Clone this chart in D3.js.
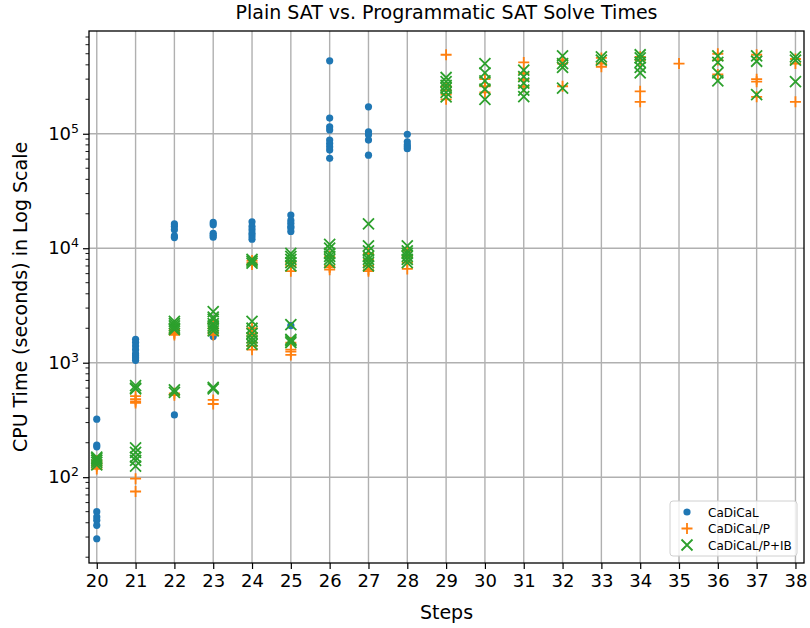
<!DOCTYPE html>
<html>
<head>
<meta charset="utf-8">
<script src="https://cdn.jsdelivr.net/npm/d3@7"></script>
<style>
  body { margin: 0; background: #fff; }
  text { font-family: "DejaVu Sans", sans-serif; fill: #000; }
</style>
</head>
<body>
<svg id="chart"></svg>
<script>
// steps on the x axis
var steps = [20, 21, 22, 23, 24, 25, 26, 27, 28, 29, 30, 31, 32, 33, 34, 35, 36, 37, 38];

// solve times per step (seconds), one inner list per step
var cadical = [
  [321, 191, 184, 140, 130, 50, 45, 42, 38, 29],
  [1600, 1500, 1400, 1300, 1200, 1150, 1100, 1050],
  [16300, 15500, 14500, 12800, 12400, 350],
  [16800, 16000, 13500, 13000, 12500, 1690],
  [17000, 15500, 14500, 13500, 12800, 12000],
  [19500, 17500, 16500, 15500, 15000, 14000, 2110],
  [434000, 137000, 115000, 108000, 88000, 82000, 77000, 72000, 61000],
  [172000, 104000, 98000, 88000, 65000],
  [99000, 85000, 80000, 77000, 74000],
  [], [], [], [], [], [], [], [], [], []
];
var cadicalP = [
  [140, 135, 130, 125, 118],
  [510, 480, 460, 445, 97, 75],
  [1950, 1850, 1800, 1750, 540, 520],
  [2200, 2000, 1850, 1750, 473, 436],
  [7800, 7500, 7200, 2000, 1800, 1700, 1500, 1400, 1300],
  [7500, 7000, 6300, 1500, 1300, 1250, 1170],
  [8500, 7000, 6800, 6500],
  [9000, 8000, 7000, 6500, 6300],
  [9500, 8500, 7500, 6600],
  [490000, 260000, 240000, 220000, 200000],
  [300000, 260000, 230000],
  [420000, 338000, 295000, 258000],
  [440000, 410000, 260000],
  [460000, 410000, 385000],
  [470000, 440000, 235000, 190000],
  [410000],
  [500000, 440000, 330000],
  [490000, 300000, 285000, 210000],
  [450000, 410000, 190000]
];
var cadicalPIB = [
  [150, 145, 140, 135, 128],
  [630, 600, 590, 180, 165, 150, 140, 125],
  [2300, 2200, 2100, 2000, 1950, 580, 550],
  [2800, 2500, 2400, 2200, 2100, 2000, 1900, 610, 590],
  [8000, 7700, 7400, 2300, 2000, 1800, 1650, 1550, 1450],
  [9000, 8500, 8000, 7500, 7000, 2150, 1600, 1550, 1500],
  [10800, 10000, 9000, 8500, 8000, 7500],
  [16300, 10500, 9500, 8500, 8000, 7500, 7000],
  [10500, 9500, 9000, 8500, 8000, 7500],
  [310000, 285000, 265000, 250000, 230000, 210000],
  [410000, 340000, 290000, 245000, 200000],
  [360000, 315000, 277000, 241000, 211000],
  [480000, 410000, 380000, 250000],
  [470000, 440000],
  [490000, 460000, 420000, 380000, 340000],
  [],
  [480000, 420000, 340000, 290000],
  [480000, 430000, 220000],
  [470000, 440000, 285000]
];

var seriesNames = ["CaDiCaL", "CaDiCaL/P", "CaDiCaL/P+IB"];
var seriesColors = ["#1f77b4", "#ff7f0e", "#2ca02c"];
var seriesShapes = ["circle", "plus", "cross"];
var allSeries = [cadical, cadicalP, cadicalPIB];

var width = 810;
var height = 628;
var margin = { top: 31, right: 6, bottom: 65, left: 89 };

var svg = d3.select("#chart")
            .attr("width", width)
            .attr("height", height);

var x = d3.scaleLinear()
          .domain([19.8, 38.22])
          .range([margin.left, width - margin.right]);

var y = d3.scaleLog()
          .domain([17.8, 7.9e5])
          .range([height - margin.bottom, margin.top]);

// grid
var majorY = [100, 1000, 10000, 100000];
svg.append("g").selectAll("line.gx")
   .data(steps).enter().append("line")
   .attr("x1", function(d){ return x(d); })
   .attr("x2", function(d){ return x(d); })
   .attr("y1", margin.top)
   .attr("y2", height - margin.bottom)
   .attr("stroke", "#b0b0b0").attr("stroke-width", 1.4);
svg.append("g").selectAll("line.gy")
   .data(majorY).enter().append("line")
   .attr("x1", margin.left)
   .attr("x2", width - margin.right)
   .attr("y1", function(d){ return y(d); })
   .attr("y2", function(d){ return y(d); })
   .attr("stroke", "#b0b0b0").attr("stroke-width", 1.4);

// points
function drawMarker(sel, shape, color){
  if(shape === "circle"){
    sel.append("circle").attr("r", 3.6).attr("fill", color);
  } else if(shape === "plus"){
    sel.append("path").attr("d", "M-5.5,0H5.5M0,-5.5V5.5")
       .attr("stroke", color).attr("stroke-width", 1.8).attr("fill", "none");
  } else {
    sel.append("path").attr("d", "M-5.5,-5.5L5.5,5.5M-5.5,5.5L5.5,-5.5")
       .attr("stroke", color).attr("stroke-width", 1.8).attr("fill", "none");
  }
}

allSeries.forEach(function(series, si){
  var pts = [];
  series.forEach(function(vals, i){
    vals.forEach(function(v){ pts.push({ step: steps[i], value: v }); });
  });
  var g = svg.append("g");
  var marks = g.selectAll("g").data(pts).enter().append("g")
               .attr("transform", function(d){
                 return "translate(" + x(d.step) + "," + y(d.value) + ")";
               });
  drawMarker(marks, seriesShapes[si], seriesColors[si]);
});

// axes
var xAxis = d3.axisBottom(x).tickValues(steps).tickFormat(d3.format("d"))
              .tickSize(6).tickPadding(5);
var gx = svg.append("g")
   .attr("transform", "translate(0," + (height - margin.bottom) + ")")
   .call(xAxis);
gx.select(".domain").remove();
gx.selectAll("text").style("font-size", "18px");
gx.selectAll("line").attr("stroke-width", 1.2);

var minorY = y.ticks().filter(function(d){ return majorY.indexOf(d) < 0; });
svg.append("g").selectAll("line")
   .data(minorY).enter().append("line")
   .attr("x1", margin.left - 3.5).attr("x2", margin.left)
   .attr("y1", function(d){ return y(d); })
   .attr("y2", function(d){ return y(d); })
   .attr("stroke", "#000").attr("stroke-width", 0.9);

var yAxis = d3.axisLeft(y).tickValues(majorY).tickSize(6).tickFormat("");
var gy = svg.append("g")
   .attr("transform", "translate(" + margin.left + ",0)")
   .call(yAxis);
gy.select(".domain").remove();
gy.selectAll("line").attr("stroke-width", 1.2);

var yl = svg.append("g").selectAll("text")
   .data(majorY).enter().append("text")
   .attr("x", margin.left - 10)
   .attr("y", function(d){ return y(d) + 6; })
   .attr("text-anchor", "end")
   .style("font-size", "18px");
yl.append("tspan").text("10");
yl.append("tspan").attr("dy", -7).style("font-size", "12.5px")
   .text(function(d){ return Math.round(Math.log10(d)); });

// frame
svg.append("rect")
   .attr("x", margin.left).attr("y", margin.top)
   .attr("width", width - margin.left - margin.right)
   .attr("height", height - margin.top - margin.bottom)
   .attr("fill", "none").attr("stroke", "#000").attr("stroke-width", 1.3);

// titles
svg.append("text")
   .attr("x", (margin.left + width - margin.right) / 2)
   .attr("y", 19)
   .attr("text-anchor", "middle")
   .style("font-size", "19px")
   .text("Plain SAT vs. Programmatic SAT Solve Times");

svg.append("text")
   .attr("x", (margin.left + width - margin.right) / 2)
   .attr("y", 619)
   .attr("text-anchor", "middle")
   .style("font-size", "19px")
   .text("Steps");

svg.append("text")
   .attr("transform", "translate(27," + ((margin.top + height - margin.bottom) / 2) + ") rotate(-90)")
   .attr("text-anchor", "middle")
   .style("font-size", "19px")
   .text("CPU Time (seconds) in Log Scale");

// legend
var legend = svg.append("g").attr("transform", "translate(670,501)");
legend.append("rect")
   .attr("width", 127).attr("height", 55).attr("rx", 3)
   .attr("fill", "#fff").attr("fill-opacity", 0.8)
   .attr("stroke", "#d0d0d0").attr("stroke-width", 1);
seriesNames.forEach(function(name, i){
  var row = legend.append("g").attr("transform", "translate(0," + (11 + i * 16.5) + ")");
  var m = row.append("g").attr("transform", "translate(17,0)");
  drawMarker(m, seriesShapes[i], seriesColors[i]);
  row.append("text").attr("x", 38).attr("y", 4.5)
     .style("font-size", "12px").text(name);
});
</script>
</body>
</html>
